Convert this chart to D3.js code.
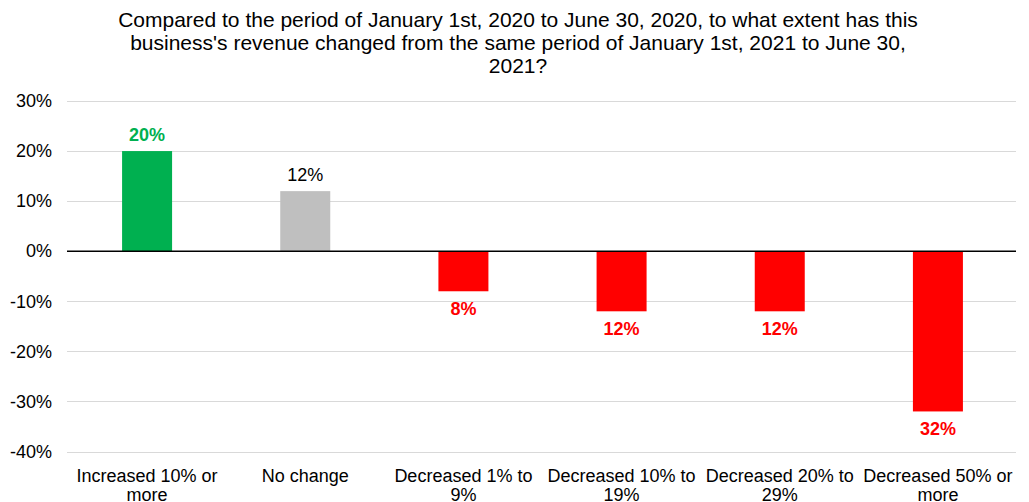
<!DOCTYPE html>
<html>
<head>
<meta charset="utf-8">
<script src="https://cdn.jsdelivr.net/npm/d3@7"></script>
<style>
  html, body { margin: 0; padding: 0; background: #fff; }
  svg { display: block; font-family: "Liberation Sans", Arial, sans-serif; }
</style>
</head>
<body>
<svg id="chart" width="1029" height="502"></svg>
<script>
// Revenue change categories and share of businesses (percent, signed by direction)
const categories = [
  "Increased 10% or more",
  "No change",
  "Decreased 1% to 9%",
  "Decreased 10% to 19%",
  "Decreased 20% to 29%",
  "Decreased 50% or more"
];
const categoryLines = [
  ["Increased 10% or", "more"],
  ["No change"],
  ["Decreased 1% to", "9%"],
  ["Decreased 10% to", "19%"],
  ["Decreased 20% to", "29%"],
  ["Decreased 50% or", "more"]
];
const values = [20, 12, -8, -12, -12, -32];
const barColors = ["#00B050", "#BFBFBF", "#FF0000", "#FF0000", "#FF0000", "#FF0000"];
const labelColors = ["#00B050", "#000000", "#FF0000", "#FF0000", "#FF0000", "#FF0000"];
const labelBold = [true, false, true, true, true, true];
const yTicks = [30, 20, 10, 0, -10, -20, -30, -40];
const titleLines = [
  "Compared to the period of January 1st, 2020 to June 30, 2020, to what extent has this",
  "business's revenue changed from the same period of January 1st, 2021 to June 30,",
  "2021?"
];

const svg = d3.select("#chart");
const plotLeft = 67, plotRight = 1016, plotTop = 101, plotBottom = 451.5;

const x = d3.scaleBand().domain(categories).range([plotLeft + 1, plotRight + 1]).paddingInner(0).paddingOuter(0);
const y = d3.scaleLinear().domain([-40, 30]).range([plotBottom, plotTop]);
const barW = 50;

// Title
svg.append("g").selectAll("text").data(titleLines).join("text")
  .attr("x", 518).attr("y", (d, i) => 27 + i * 23)
  .attr("text-anchor", "middle").attr("font-size", 21).attr("fill", "#000")
  .text(d => d);

// Gridlines
svg.append("g").selectAll("line").data(yTicks.filter(t => t !== 0)).join("line")
  .attr("x1", plotLeft).attr("x2", plotRight)
  .attr("y1", d => Math.round(y(d)) + 0.5).attr("y2", d => Math.round(y(d)) + 0.5)
  .attr("stroke", "#D9D9D9").attr("stroke-width", 1);

// Y axis labels
const yAxis = d3.axisLeft(y).tickValues(yTicks).tickSize(0).tickPadding(0)
  .tickFormat(d => d + "%");
svg.append("g").attr("transform", `translate(52,0)`).call(yAxis)
  .call(g => g.select(".domain").remove())
  .call(g => g.selectAll("text").attr("font-size", 18).attr("fill", "#000")
    .attr("font-family", "'Liberation Sans', Arial, sans-serif"));

// Bars
svg.append("g").selectAll("rect").data(values).join("rect")
  .attr("x", (d, i) => x(categories[i]) + x.bandwidth() / 2 - barW / 2)
  .attr("width", barW)
  .attr("y", d => y(Math.max(0, d)))
  .attr("height", d => Math.abs(y(d) - y(0)))
  .attr("fill", (d, i) => barColors[i]);

// Zero line
svg.append("line")
  .attr("x1", plotLeft).attr("x2", plotRight)
  .attr("y1", y(0)).attr("y2", y(0))
  .attr("stroke", "#000").attr("stroke-width", 1.5);

// Value labels
svg.append("g").selectAll("text").data(values).join("text")
  .attr("x", (d, i) => x(categories[i]) + x.bandwidth() / 2)
  .attr("y", d => d >= 0 ? y(d) - 10 : y(d) + 24)
  .attr("text-anchor", "middle").attr("font-size", 18)
  .attr("font-weight", (d, i) => labelBold[i] ? "bold" : "normal")
  .attr("fill", (d, i) => labelColors[i])
  .text(d => Math.abs(d) + "%");

// Category labels
const cat = svg.append("g").selectAll("text").data(categoryLines).join("text")
  .attr("x", (d, i) => x(categories[i]) + x.bandwidth() / 2)
  .attr("y", 481.5)
  .attr("text-anchor", "middle").attr("font-size", 18).attr("fill", "#000");
cat.selectAll("tspan").data(d => d).join("tspan")
  .attr("x", function () { return d3.select(this.parentNode).attr("x"); })
  .attr("dy", (d, i) => i === 0 ? 0 : 19.5)
  .text(d => d);
</script>
</body>
</html>
